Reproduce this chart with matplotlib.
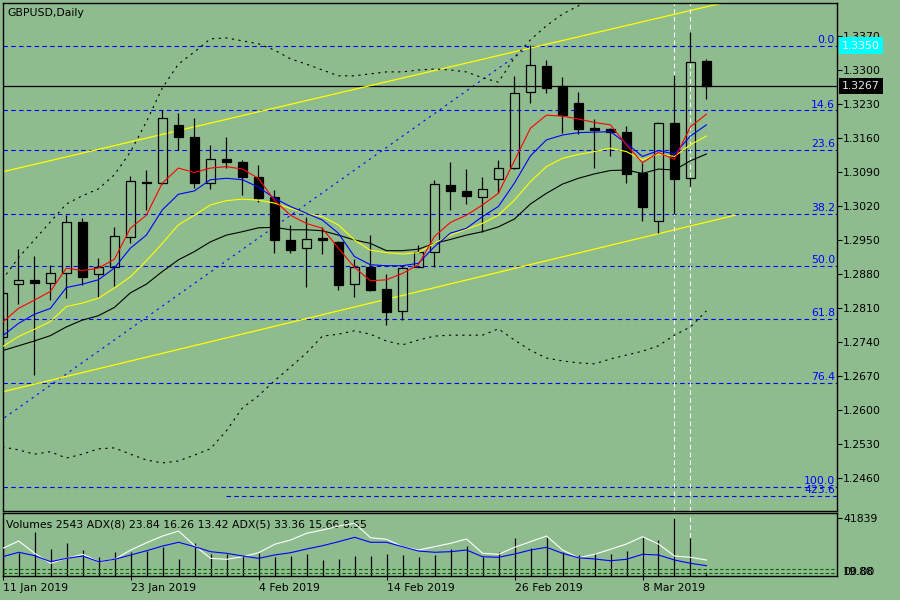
import numpy as np
import matplotlib.pyplot as plt

plt.rcParams['font.family'] = 'DejaVu Sans'
plt.rcParams['font.size'] = 7.8

bg = '#8fbc8f'

# GBPUSD daily bars, 11 Jan 2019 .. 14 Mar 2019
opens = [1.2751, 1.2859, 1.2868, 1.2861, 1.2883, 1.2986, 1.2879, 1.2894, 1.2956, 1.3070,
         1.3067, 1.3187, 1.3161, 1.3067, 1.3117, 1.3111, 1.3080, 1.3039, 1.2950, 1.2933,
         1.2955, 1.2946, 1.2859, 1.2894, 1.2849, 1.2804, 1.2894, 1.2925, 1.3063, 1.3051,
         1.3039, 1.3075, 1.3098, 1.3254, 1.3308, 1.3266, 1.3231, 1.3180, 1.3178, 1.3172,
         1.3087, 1.2990, 1.3190, 1.3077, 1.3319]
highs = [1.2858, 1.2931, 1.2918, 1.2899, 1.3001, 1.2995, 1.2912, 1.2977, 1.3082, 1.3094,
         1.3218, 1.3212, 1.3201, 1.3146, 1.3161, 1.3115, 1.3104, 1.3053, 1.2981, 1.2998,
         1.2977, 1.2948, 1.2910, 1.2960, 1.2880, 1.2899, 1.2940, 1.3074, 1.3110, 1.3096,
         1.3079, 1.3115, 1.3288, 1.3351, 1.3321, 1.3285, 1.3254, 1.3199, 1.3180, 1.3185,
         1.3108, 1.3192, 1.3290, 1.3379, 1.3322]
lows = [1.2745, 1.2818, 1.2671, 1.2826, 1.2831, 1.2857, 1.2833, 1.2856, 1.2943, 1.3012,
        1.3065, 1.3135, 1.3056, 1.3054, 1.3098, 1.3043, 1.3029, 1.2924, 1.2924, 1.2854,
        1.2921, 1.2846, 1.2833, 1.2845, 1.2775, 1.2785, 1.2894, 1.2894, 1.3012, 1.3024,
        1.2967, 1.3046, 1.3096, 1.3233, 1.3253, 1.3171, 1.3168, 1.3098, 1.3123, 1.3068,
        1.2990, 1.2964, 1.3004, 1.3061, 1.3240]
closes = [1.2840, 1.2868, 1.2862, 1.2881, 1.2986, 1.2874, 1.2894, 1.2958, 1.3071, 1.3067,
          1.3201, 1.3161, 1.3068, 1.3116, 1.3111, 1.3080, 1.3037, 1.2950, 1.2929, 1.2953,
          1.2949, 1.2857, 1.2894, 1.2846, 1.2802, 1.2892, 1.2926, 1.3065, 1.3051, 1.3041,
          1.3054, 1.3098, 1.3252, 1.3310, 1.3262, 1.3207, 1.3179, 1.3176, 1.3172, 1.3085,
          1.3017, 1.3190, 1.3075, 1.3317, 1.3267]

# moving averages and bollinger bands as shown on the chart
ma_red = [1.2780, 1.2809, 1.2826, 1.2844, 1.2892, 1.2887, 1.2892, 1.2910, 1.2974, 1.3001,
          1.3067, 1.3098, 1.3089, 1.3098, 1.3101, 1.3096, 1.3077, 1.3032, 1.3001, 1.2984,
          1.2974, 1.2933, 1.2894, 1.2866, 1.2868, 1.2881, 1.2899, 1.2957, 1.2986, 1.3001,
          1.3022, 1.3046, 1.3113, 1.3180, 1.3207, 1.3205, 1.3199, 1.3192, 1.3187, 1.3146,
          1.3109, 1.3130, 1.3116, 1.3183, 1.3209]
ma_blue = [1.2752, 1.2778, 1.2797, 1.2809, 1.2852, 1.2859, 1.2868, 1.2892, 1.2933, 1.2960,
           1.3012, 1.3044, 1.3051, 1.3074, 1.3077, 1.3074, 1.3059, 1.3036, 1.3019, 1.3005,
           1.2991, 1.2964, 1.2916, 1.2899, 1.2897, 1.2897, 1.2902, 1.2936, 1.2964, 1.2974,
           1.2998, 1.3019, 1.3067, 1.3123, 1.3156, 1.3166, 1.3171, 1.3172, 1.3173, 1.3149,
           1.3122, 1.3134, 1.3127, 1.3164, 1.3187]
ma_yellow = [1.2730, 1.2751, 1.2766, 1.2782, 1.2813, 1.2820, 1.2830, 1.2851, 1.2874, 1.2907,
             1.2943, 1.2981, 1.3001, 1.3022, 1.3031, 1.3034, 1.3032, 1.3026, 1.3015, 1.3005,
             1.2998, 1.2981, 1.2950, 1.2929, 1.2924, 1.2921, 1.2924, 1.2943, 1.2960, 1.2972,
             1.2984, 1.3001, 1.3032, 1.3070, 1.3101, 1.3118, 1.3126, 1.3132, 1.3139, 1.3132,
             1.3115, 1.3127, 1.3122, 1.3146, 1.3164]
ma_black = [1.2722, 1.2732, 1.2742, 1.2753, 1.2771, 1.2785, 1.2794, 1.2811, 1.2841, 1.2859,
            1.2885, 1.2909, 1.2926, 1.2946, 1.2960, 1.2967, 1.2975, 1.2976, 1.2971, 1.2971,
            1.2969, 1.2960, 1.2950, 1.2943, 1.2928, 1.2928, 1.2931, 1.2943, 1.2951, 1.2960,
            1.2967, 1.2977, 1.2993, 1.3024, 1.3046, 1.3065, 1.3077, 1.3086, 1.3093, 1.3094,
            1.3087, 1.3096, 1.3094, 1.3113, 1.3127]
bb_upper = [1.2868, 1.2913, 1.2950, 1.2987, 1.3024, 1.3041, 1.3055, 1.3084, 1.3131, 1.3193,
            1.3263, 1.3312, 1.3337, 1.3364, 1.3366, 1.3360, 1.3354, 1.3341, 1.3323, 1.3312,
            1.3300, 1.3288, 1.3288, 1.3292, 1.3296, 1.3296, 1.3300, 1.3302, 1.3300, 1.3296,
            1.3284, 1.3275, 1.3325, 1.3362, 1.3391, 1.3415, 1.3432, 1.3448, 1.3456, 1.3461,
            1.3456, 1.3461, 1.3469, 1.3481, 1.3489]
bb_lower = [1.2524, 1.2518, 1.2509, 1.2514, 1.2501, 1.2509, 1.2520, 1.2522, 1.2509, 1.2497,
            1.2491, 1.2495, 1.2507, 1.2520, 1.2557, 1.2604, 1.2629, 1.2660, 1.2688, 1.2717,
            1.2752, 1.2756, 1.2763, 1.2756, 1.2742, 1.2734, 1.2744, 1.2752, 1.2754, 1.2754,
            1.2754, 1.2767, 1.2744, 1.2723, 1.2707, 1.2701, 1.2697, 1.2695, 1.2705, 1.2713,
            1.2721, 1.2732, 1.2754, 1.2771, 1.2804]

# sub window: tick volumes and two ADX lines
volumes = [21000, 16580, 31720, 19470, 23790, 18750, 13700, 17300, 17300, 18030,
           20910, 12260, 23790, 15860, 15860, 15140, 16580, 13700, 14420, 15860,
           11540, 12260, 14420, 14420, 15860, 15140, 13700, 15140, 19470, 21630,
           13480, 17520, 27610, 19970, 28340, 17520, 15140, 16370, 15860, 18030,
           28120, 25960, 41839, 27400, 2543]
adx_white = [52.9, 65.1, 44.6, 27.9, 36.2, 42.9, 30.6, 34.6, 50.1, 62.3,
             73.5, 81.8, 57.3, 36.2, 34.6, 38.9, 45.6, 59.6, 66.8, 78.0,
             83.5, 90.2, 94.7, 70.6, 68.0, 55.6, 50.1, 55.6, 61.3, 68.5,
             44.6, 42.9, 54.6, 64.0, 73.5, 50.1, 37.2, 42.9, 51.3, 60.1,
             72.3, 60.1, 40.1, 37.9, 33.4]
adx_blue = [38.9, 46.3, 40.6, 30.6, 36.2, 40.1, 30.6, 34.6, 41.8, 48.9,
            56.8, 63.0, 55.6, 47.3, 44.6, 40.1, 36.2, 41.8, 45.6, 51.8,
            57.3, 64.0, 71.3, 63.0, 63.0, 55.6, 48.4, 46.3, 47.3, 50.1,
            38.9, 37.9, 43.4, 50.1, 54.6, 44.6, 37.2, 35.1, 32.2, 34.6,
            42.9, 41.8, 33.4, 27.9, 23.9]
adx_levels = [17.9, 12.2]

# drawing objects
fib_labels = ['0.0', '14.6', '23.6', '38.2', '50.0', '61.8', '76.4', '100.0']
fib_prices = [1.3350, 1.3217, 1.3135, 1.3003, 1.2896, 1.2788, 1.2656, 1.2441]
ext_label = '423.6'
ext_price = 1.2423
ext_start = 14
fib_trend_x = [-6, 33]
fib_trend_y = [1.2441, 1.3350]
chan_x = [-0.15, 45.8]
chan_upper_y = [1.3089, 1.3444]
chan_lower_y = [1.2636, 1.3001]
vline_bars = [42, 43]

price_ticks = [1.3370, 1.3300, 1.3230, 1.3160, 1.3090, 1.3020, 1.2950,
               1.2880, 1.2810, 1.2740, 1.2670, 1.2600, 1.2530, 1.2460]
last_price = 1.3267
alert_price = 1.3350
date_labels = ['11 Jan 2019', '23 Jan 2019', '4 Feb 2019', '14 Feb 2019', '26 Feb 2019', '8 Mar 2019']
date_bars = [0, 8, 16, 24, 32, 40]

x = np.arange(len(opens))
o = np.array(opens); c = np.array(closes); h = np.array(highs); l = np.array(lows)

fig = plt.figure(figsize=(9, 6), dpi=100, facecolor=bg)
ax = fig.add_axes([2.7/900, 1-511/600, (837-2.7)/900, (511-2.7)/600], facecolor=bg)
ax2 = fig.add_axes([2.7/900, 1-576/600, (837-2.7)/900, (576-513.3)/600], facecolor=bg)

# fibo levels (background)
dash = (0, (4, 3))
for lab, p in zip(fib_labels, fib_prices):
    ax.axhline(p, color='#0000ff', lw=0.8, ls=dash, zorder=1)
    ax.annotate(lab, xy=(0.9976, p), xycoords=ax.get_yaxis_transform(),
                xytext=(0, 2), textcoords='offset points',
                ha='right', va='baseline', color='#0000ff', fontsize=7.8)
ax.hlines(ext_price, ext_start, 52.2, color='#0000ff', lw=0.8, ls=dash, zorder=1)
ax.annotate(ext_label, xy=(0.9976, ext_price), xycoords=ax.get_yaxis_transform(),
            xytext=(0, 2), textcoords='offset points',
            ha='right', va='baseline', color='#0000ff', fontsize=7.8)
ax.plot(fib_trend_x, fib_trend_y, color='#0000ff', lw=0.8, ls=(0, (2, 4)), zorder=1)

ax.axhline(last_price, color='black', lw=0.9, zorder=1)

ax.plot(chan_x, chan_upper_y, color='#ffff00', lw=0.9, zorder=2)
ax.plot(chan_x, chan_lower_y, color='#ffff00', lw=0.9, zorder=2)

for b in vline_bars:
    ax.axvline(b, color='white', lw=0.8, ls=(0, (4, 3)), zorder=2)
    ax2.axvline(b, color='white', lw=0.8, ls=(0, (4, 3)), zorder=1)

# candles
up = c >= o
top = np.maximum(o, c); bot = np.minimum(o, c)
ax.vlines(x[~up], l[~up], h[~up], color='black', lw=0.9, zorder=3)
ax.vlines(x[up], l[up], bot[up], color='black', lw=0.9, zorder=3)
ax.vlines(x[up], top[up], h[up], color='black', lw=0.9, zorder=3)
ax.bar(x[up], (top - bot)[up], bottom=bot[up], width=0.6, facecolor='none',
       edgecolor='black', lw=0.9, zorder=3)
ax.bar(x[~up], np.maximum((top - bot)[~up], 0.00012), bottom=bot[~up], width=0.6,
       facecolor='black', edgecolor='black', lw=0.9, zorder=3)

# indicators
ax.plot(x, bb_upper, color='black', lw=0.8, ls=(0, (2, 4)), zorder=4)
ax.plot(x, bb_lower, color='black', lw=0.8, ls=(0, (2, 4)), zorder=4)
ax.plot(x, ma_black, color='black', lw=0.8, zorder=4)
ax.plot(x, ma_yellow, color='#ffff00', lw=0.8, zorder=4)
ax.plot(x, ma_blue, color='#0000ff', lw=0.8, zorder=4)
ax.plot(x, ma_red, color='#ff0000', lw=0.8, zorder=4)

ax.set_xlim(0.025, 52.16)
ax.set_ylim(1.2392, 1.34385)
ax.set_xticks([])
ax.yaxis.tick_right()
ax.set_yticks(price_ticks)
ax.set_yticklabels(['%.4f' % p for p in price_ticks])
ax.tick_params(axis='y', direction='out', length=3.5, width=0.8, pad=1, labelsize=7.8)
for s in ax.spines.values():
    s.set_linewidth(1.0)

ax.text(4.5/834, 1 - 10/508, 'GBPUSD,Daily', transform=ax.transAxes,
        ha='left', va='center', fontsize=7.8)

ax.annotate('%.4f' % last_price, xy=(1, last_price), xycoords=ax.get_yaxis_transform(),
            xytext=(3.5, 0), textcoords='offset points', ha='left', va='center',
            color='#e8e8e8', fontsize=7.8,
            bbox=dict(boxstyle='square,pad=0.3', fc='black', ec='none'))
ax.annotate('%.4f' % alert_price, xy=(1, alert_price), xycoords=ax.get_yaxis_transform(),
            xytext=(3.5, 0), textcoords='offset points', ha='left', va='center',
            color='white', fontsize=7.8,
            bbox=dict(boxstyle='square,pad=0.3', fc='#00ffff', ec='none'))

# sub window
ax2.vlines(x, 0, volumes, color='black', lw=0.9, zorder=2)
ax2.set_ylim(0, 45200)
ax2.set_xlim(0.025, 52.16)
ax2.set_xticks(date_bars)
ax2.set_xticklabels(date_labels, ha='left')
ax2.tick_params(axis='x', direction='out', length=3, width=0.8, pad=2, labelsize=7.8)
for s in ax2.spines.values():
    s.set_linewidth(1.0)

ax3 = ax2.twinx()
ax3.set_ylim(6.7, 111.4)
ax3.set_yticks([])
for s in ax3.spines.values():
    s.set_visible(False)
for lv in adx_levels:
    ax3.axhline(lv, color='#006400', lw=0.8, ls=(0, (3, 2)), zorder=1)
ax3.plot(x, adx_white, color='white', lw=0.8, zorder=3)
ax3.plot(x, adx_blue, color='#0000ff', lw=0.8, zorder=3)

# twinx moves ax2's ticks to the left, put them back on the right
ax2.yaxis.tick_right()
ax2.set_yticks([41839])
ax2.set_yticklabels(['41839'])
ax2.tick_params(axis='y', direction='out', length=3.5, width=0.8, pad=1, labelsize=7.8)

ax2.text(3.5/834, 1 - 11/63, 'Volumes 2543 ADX(8) 23.84 16.26 13.42 ADX(5) 33.36 15.66 8.55',
         transform=ax2.transAxes, ha='left', va='center', fontsize=7.8)
for lab in ['00.00', '19.88']:
    ax2.text(1.007, 4/63, lab, transform=ax2.transAxes, ha='left', va='center', fontsize=7.8)

fig.savefig('out.png', dpi=100, facecolor=bg)
